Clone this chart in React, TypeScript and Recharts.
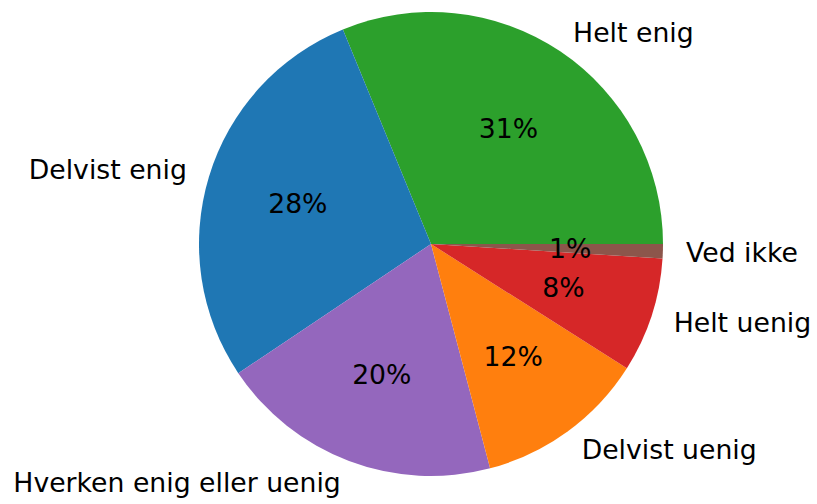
import React from "react";
import { PieChart, Pie, Cell } from "recharts";

const categories = [
  "Helt enig",
  "Delvist enig",
  "Hverken enig eller uenig",
  "Delvist uenig",
  "Helt uenig",
  "Ved ikke",
];
const shares = [31.2, 28.2, 19.7, 11.9, 8.0, 1.0];
const colors = ["#2ca02c", "#1f77b4", "#9467bd", "#ff7f0e", "#d62728", "#8c564b"];

const data = categories.map((name, i) => ({ name, value: shares[i] }));

const RADIAN = Math.PI / 180;
const FONT = "'DejaVu Sans', sans-serif";

function renderLabel(props: any) {
  const { cx, cy, midAngle, outerRadius, percent, name } = props;
  const cos = Math.cos(-midAngle * RADIAN);
  const sin = Math.sin(-midAngle * RADIAN);
  const ox = cx + outerRadius * 1.1 * cos;
  const oy = cy + outerRadius * 1.1 * sin;
  const px = cx + outerRadius * 0.6 * cos;
  const py = cy + outerRadius * 0.6 * sin;
  return (
    <g>
      <text
        x={ox}
        y={oy}
        fill="#000"
        fontSize={26.7}
        fontFamily={FONT}
        textAnchor={cos >= 0 ? "start" : "end"}
        dominantBaseline="central"
      >
        {name}
      </text>
      <text
        x={px}
        y={py}
        fill="#000"
        fontSize={26.7}
        fontFamily={FONT}
        textAnchor="middle"
        dominantBaseline="central"
      >
        {`${Math.round(percent * 100)}%`}
      </text>
    </g>
  );
}

export default function App() {
  return (
    <div style={{ position: "absolute", left: 0, top: 0, background: "#fff" }}>
      <PieChart width={817} height={504} margin={{ top: 0, right: 0, bottom: 0, left: 0 }}>
        <Pie
          data={data}
          dataKey="value"
          nameKey="name"
          cx={431}
          cy={244}
          outerRadius={232}
          startAngle={0}
          endAngle={360}
          stroke="none"
          labelLine={false}
          label={renderLabel}
          isAnimationActive={false}
        >
          {data.map((d, i) => (
            <Cell key={d.name} fill={colors[i]} />
          ))}
        </Pie>
      </PieChart>
    </div>
  );
}
